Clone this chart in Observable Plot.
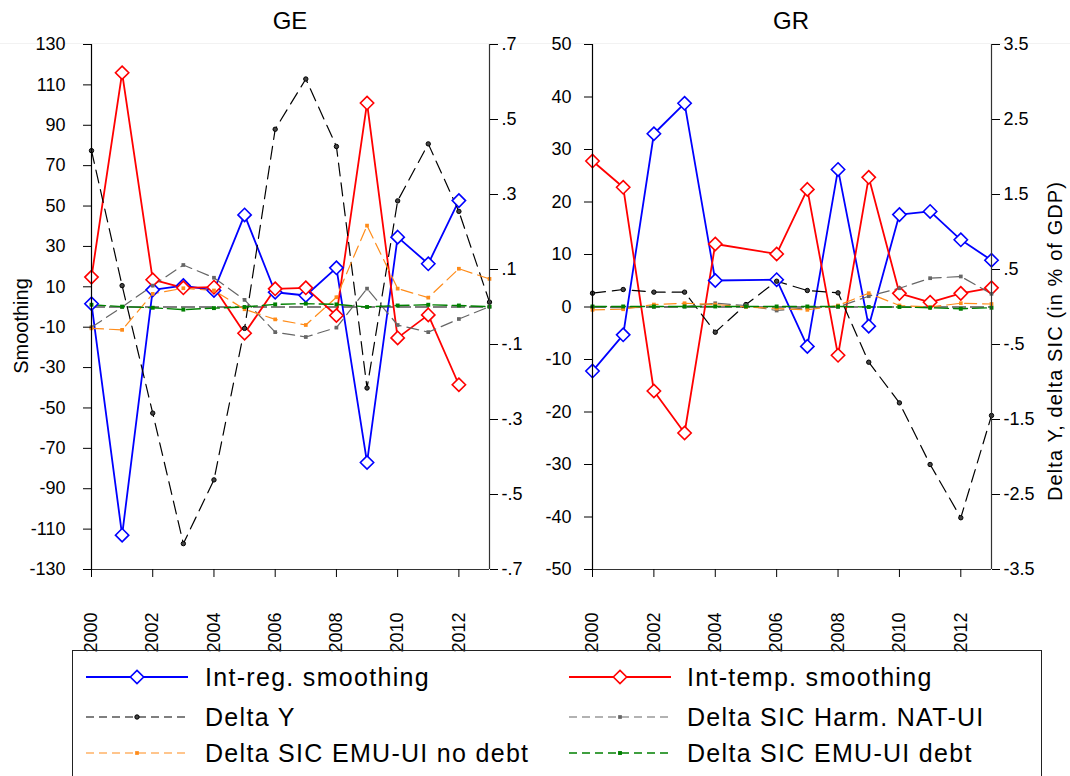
<!DOCTYPE html>
<html><head><meta charset="utf-8">
<script src="https://cdn.jsdelivr.net/npm/d3@7"></script>
<script src="https://cdn.jsdelivr.net/npm/@observablehq/plot@0.6"></script>
<style>
body{margin:0;background:#fff;font-family:Arial,"Liberation Sans",sans-serif;color:#000;}
#root{position:relative;width:1070px;height:776px;overflow:hidden;background:#fff;}
.abs{position:absolute;}
.ptitle{font-size:24px;transform:translate(-50%,-50%);white-space:nowrap;}
.ylab{font-size:20px;white-space:nowrap;transform:translate(-50%,-50%) rotate(-90deg);}
#legend{position:absolute;left:72px;top:650px;width:970px;height:140px;border:1px solid #222;box-sizing:border-box;}
.ltxt{position:absolute;font-size:25px;letter-spacing:1.3px;white-space:nowrap;transform:translateY(-50%);}
</style></head><body><div id="root"></div>
<script>
// ---------- data ----------
const years = [2000,2001,2002,2003,2004,2005,2006,2007,2008,2009,2010,2011,2012,2013];
const seriesNames = ["Int-reg. smoothing","Int-temp. smoothing","Delta Y","Delta SIC Harm. NAT-UI","Delta SIC EMU-UI no debt","Delta SIC EMU-UI debt"];
// GE (left axis: smoothing; right axis: % of GDP)
const geIntReg  = [1.6,-113,8.5,10.6,8.2,45.6,7.3,5.7,19.4,-77,34.6,21.4,52.7,null];
const geIntTemp = [14.8,116,13.5,9.5,9.8,-13,9.0,9.5,-4.2,101,-15.3,-3.9,-38.5,null];
const geDeltaY  = [0.417,0.057,-0.283,-0.631,-0.461,-0.057,0.474,0.608,0.428,-0.216,0.283,0.435,0.255,0.013];
const geHarm    = [-0.054,0.0,0.057,0.112,0.078,0.019,-0.067,-0.080,-0.055,0.049,-0.048,-0.067,-0.032,0.001];
const geNoDebt  = [-0.057,-0.061,0.035,0.050,0.044,-0.006,-0.033,-0.048,0.026,0.217,0.049,0.025,0.102,0.075];
const geDebt    = [0.006,0.001,-0.002,-0.007,-0.003,0.0,0.007,0.009,0.007,0.0,0.004,0.006,0.004,0.001];
// GR
const grIntReg  = [-12.2,-5.3,33,38.8,5.05,null,5.2,-7.5,26.2,-3.65,17.6,18.2,12.8,8.9];
const grIntTemp = [27.8,22.8,-16,-24,12.0,null,10.1,22.4,-9.2,24.7,2.6,0.9,2.6,3.65];
const grDeltaY  = [0.184,0.233,0.198,0.198,-0.336,0.033,0.344,0.22,0.189,-0.736,-1.278,-2.1,-2.81,-1.447];
const grHarm    = [-0.003,-0.01,0.0,0.005,0.05,0.02,-0.047,-0.01,0.0,0.144,0.25,0.384,0.407,0.176];
const grNoDebt  = [-0.038,-0.03,0.033,0.05,0.033,0.0,-0.02,-0.038,0.02,0.184,0.02,0.0,0.05,0.04];
const grDebt    = [0.007,0.007,0.007,0.007,0.007,0.007,0.007,0.007,0.007,0.0,0.0,-0.01,-0.024,-0.01];
// axis ticks
const xTicks = [2000,2002,2004,2006,2008,2010,2012];
const geLeftTicks  = [-130,-110,-90,-70,-50,-30,-10,10,30,50,70,90,110,130];
const geRightTicks = [-0.7,-0.5,-0.3,-0.1,0.1,0.3,0.5,0.7];
const grLeftTicks  = [-50,-40,-30,-20,-10,0,10,20,30,40,50];
const grRightTicks = [-3.5,-2.5,-1.5,-0.5,0.5,1.5,2.5,3.5];

// ---------- styles ----------
const styles = [
  {stroke:"#0000FF", dash:null, width:1.8, symbol:"diamond2", r:6, fill:"white", mstroke:"#0000FF", sw:1.6},
  {stroke:"#FF0000", dash:null, width:1.8, symbol:"diamond2", r:6, fill:"white", mstroke:"#FF0000", sw:1.6},
  {stroke:"#000000", dash:"13,7", width:1.2, symbol:"circle", r:2.2, fill:"#444", mstroke:"#000", sw:1},
  {stroke:"#666666", dash:"12,6", width:1.2, symbol:"square", r:2.1, fill:"#666", mstroke:"#666", sw:0},
  {stroke:"#FF8C1A", dash:"12,6", width:1.2, symbol:"square", r:2.1, fill:"#FF8C1A", mstroke:"#FF8C1A", sw:0},
  {stroke:"#008000", dash:"14,5", width:1.4, symbol:"square", r:2.2, fill:"#008000", mstroke:"#008000", sw:0}
];

const FONT = "Arial, 'Liberation Sans', sans-serif";
function fmtDec(v){ const s = (Math.round(v*10)/10).toString(); return s.replace(/^(-?)0\./, "$1."); }

function panel(o){
  const k = o.yMax / o.rMax;
  const arrs = o.arrs;
  const marks = [Plot.ruleY([0], {stroke:"black", strokeDasharray:"14,4", strokeWidth:1.2})];
  const order = [0,1,2,3,4,5];
  order.forEach(i => {
    const s = styles[i];
    const mult = i >= 2 ? k : 1;
    const rows = years.map((y,j)=>({year:y, v: arrs[i][j]})).filter(d=>d.v!=null).map(d=>({year:d.year, v:d.v*mult}));
    marks.push(Plot.line(rows, {x:"year", y:"v", stroke:s.stroke, strokeWidth:s.width, strokeDasharray:s.dash}));
  });
  order.forEach(i => {
    const s = styles[i];
    const mult = i >= 2 ? k : 1;
    const rows = years.map((y,j)=>({year:y, v: arrs[i][j]})).filter(d=>d.v!=null).map(d=>({year:d.year, v:d.v*mult}));
    marks.push(Plot.dot(rows, {x:"year", y:"v", symbol:s.symbol, r:s.r, fill:s.fill, stroke:s.mstroke, strokeWidth:s.sw}));
  });
  marks.push(
    Plot.ruleX([2000], {stroke:"black", strokeWidth:1.2}),
    Plot.ruleX([2013], {stroke:"#333", strokeWidth:1.2}),
    Plot.ruleY([-o.yMax], {stroke:"#333", strokeWidth:1.2}),
    Plot.axisY({anchor:"left", ticks:o.leftTicks, tickFormat:d=>String(d), tickSize:8, tickPadding:o.padL, label:null, fontSize:18}),
    Plot.axisY({anchor:"right", ticks:o.rightTicks.map(v=>v*k), tickFormat:d=>fmtDec(d/k), tickSize:8, tickPadding:4, label:null, fontSize:18}),
    Plot.axisX({ticks:xTicks, tickFormat:d=>String(d), tickRotate:-90, tickSize:8, tickPadding:35, label:null, fontSize:18})
  );
  const svg = Plot.plot({
    width:o.width, height:645, marginTop:44, marginBottom:76, marginLeft:o.mL, marginRight:o.mR,
    style:{fontFamily:FONT, fontSize:"18px", background:"transparent", overflow:"visible", color:"black"},
    x:{domain:[2000,2013]},
    y:{domain:[-o.yMax, o.yMax]},
    marks
  });
  svg.style.position = "absolute";
  svg.style.left = o.left + "px";
  svg.style.top = "0px";
  return svg;
}

const root = document.getElementById("root");
const topLine = document.createElement("div");
topLine.className = "abs";
topLine.style.cssText = "left:0;top:43px;width:1070px;height:1px;background:#f2f2f2;";
root.appendChild(topLine);

root.appendChild(panel({left:0, width:540, mL:91, mR:51, yMax:130, rMax:0.7, leftTicks:geLeftTicks, rightTicks:geRightTicks, padL:18,
  arrs:[geIntReg, geIntTemp, geDeltaY, geHarm, geNoDebt, geDebt]}));
root.appendChild(panel({left:500, width:570, mL:92, mR:79, yMax:50, rMax:3.5, leftTicks:grLeftTicks, rightTicks:grRightTicks, padL:13,
  arrs:[grIntReg, grIntTemp, grDeltaY, grHarm, grNoDebt, grDebt]}));

function addText(cls, txt, x, y, extra){
  const d = document.createElement("div");
  d.className = "abs " + cls;
  d.textContent = txt;
  d.style.left = x + "px"; d.style.top = y + "px";
  if (extra) Object.assign(d.style, extra);
  root.appendChild(d);
}
addText("ptitle", "GE", 290, 21);
addText("ptitle", "GR", 791, 21);
addText("ylab", "Smoothing", 21, 326);
addText("ylab", "Delta Y, delta SIC (in % of GDP)", 1055, 341, {letterSpacing:"1.1px"});

// ---------- legend ----------
const leg = document.createElement("div");
leg.id = "legend";
root.appendChild(leg);
const legItems = [
  {i:0, col:0, row:0}, {i:1, col:1, row:0},
  {i:2, col:0, row:1}, {i:3, col:1, row:1},
  {i:4, col:0, row:2}, {i:5, col:1, row:2}
];
const rowY = [676, 716, 752];
const colX = [[85,187,204],[568,670,686]];
const ns = "http://www.w3.org/2000/svg";
legItems.forEach(it => {
  const s = styles[it.i];
  const [x1, x2, tx] = colX[it.col];
  const cy = rowY[it.row];
  const svg = document.createElementNS(ns, "svg");
  svg.setAttribute("width", x2 - x1 + 20);
  svg.setAttribute("height", 24);
  svg.style.position = "absolute";
  svg.style.left = (x1 - 72 - 10) + "px";
  svg.style.top = (cy - 650 - 12) + "px";
  const line = document.createElementNS(ns, "line");
  line.setAttribute("x1", 10); line.setAttribute("x2", x2 - x1 + 10);
  line.setAttribute("y1", 12); line.setAttribute("y2", 12);
  line.setAttribute("stroke", s.stroke);
  line.setAttribute("stroke-width", s.width);
  if (s.dash) line.setAttribute("stroke-dasharray", "8,5");
  svg.appendChild(line);
  const mx = (x2 - x1) / 2 + 10;
  const sym = {diamond2: d3.symbolDiamond2, circle: d3.symbolCircle, square: d3.symbolSquare}[s.symbol];
  const p = document.createElementNS(ns, "path");
  p.setAttribute("d", d3.symbol(sym, Math.PI * s.r * s.r)());
  p.setAttribute("transform", `translate(${mx},12)`);
  p.setAttribute("fill", s.fill);
  p.setAttribute("stroke", s.mstroke);
  p.setAttribute("stroke-width", s.sw);
  svg.appendChild(p);
  leg.appendChild(svg);
  const t = document.createElement("div");
  t.className = "ltxt";
  t.textContent = seriesNames[it.i];
  t.style.left = (tx - 72) + "px";
  t.style.top = (cy - 650) + "px";
  leg.appendChild(t);
});
</script>
</body></html>
